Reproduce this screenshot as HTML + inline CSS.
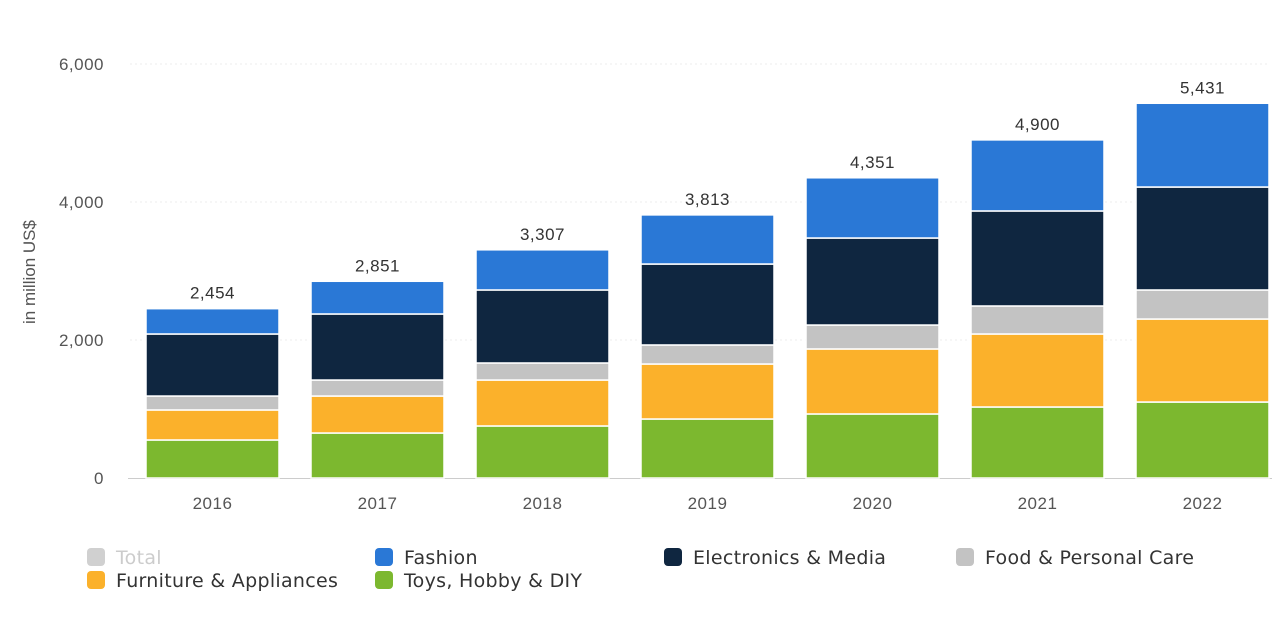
<!DOCTYPE html>
<html><head><meta charset="utf-8"><style>
body{margin:0;background:#fff;width:1288px;height:620px;overflow:hidden;font-family:"Liberation Sans",sans-serif}
</style></head><body>
<svg id="chart" width="1288" height="620" xmlns="http://www.w3.org/2000/svg" font-family="Liberation Sans, sans-serif"></svg>
<script>
const years=["2016","2017","2018","2019","2020","2021","2022"];
const toys=[551,652,754,855,928,1029,1101];
const furniture=[435,536,666,797,942,1058,1203];
const food=[202,232,247,276,347,406,421];
const electronics=[899,957,1058,1173,1261,1377,1492];
const fashion=[367,474,582,712,873,1030,1214];
const totals=[2454,2851,3307,3813,4351,4900,5431];
const yTicks=[0,2000,4000,6000];
const yTickLabels=["0","2,000","4,000","6,000"];
const seriesNames=["Toys, Hobby & DIY","Furniture & Appliances","Food & Personal Care","Electronics & Media","Fashion"];
const seriesData=[toys,furniture,food,electronics,fashion];
const colors=["#7cb82f","#fbb12b","#c3c3c3","#0f2640","#2a78d6"];
const svg=document.getElementById('chart');
const NS="http://www.w3.org/2000/svg";
const y=v=>478-v*(414/6000);
const x=i=>146+i*165;
const bw=133;
function mk(t,a,txt){const e=document.createElementNS(NS,t);for(const k in a)e.setAttribute(k,a[k]);if(txt!==undefined)e.textContent=txt;svg.appendChild(e);return e;}
yTicks.forEach((t,i)=>{
 if(t>0){const g=mk('line',{x1:130,x2:1270,y1:y(t),y2:y(t),stroke:'#eee','stroke-dasharray':'2,3'});
 
 }
 const l=mk('text',{x:104,y:y(t)+6,'text-anchor':'end','font-size':17,fill:'#555','letter-spacing':'0.5'},yTickLabels[i]);
 
 
});
const ax=mk('line',{x1:128,x2:1272,y1:478.5,y2:478.5,stroke:'#ccc'});


const yt=mk('text',{x:0,y:0,transform:'translate(35,272) rotate(-90)','text-anchor':'middle','font-size':17,fill:'#555'},'in million US$');


years.forEach((yr,i)=>{
 let acc=0;
 seriesData.forEach((s,j)=>{
  const v=s[i];
  const r=mk('rect',{x:x(i),y:y(acc+v),width:bw,height:y(acc)-y(acc+v),fill:colors[j],stroke:'#fff','stroke-width':1.5});
  
  
  acc+=v;
 });
 const tl=mk('text',{x:x(i)+bw/2,y:y(totals[i])-10,'text-anchor':'middle','font-size':17,fill:'#333','letter-spacing':'0.5'},totals[i].toLocaleString('en-US'));
 
 
 const xl=mk('text',{x:x(i)+bw/2,y:509,'text-anchor':'middle','font-size':17,fill:'#555','letter-spacing':'0.5'},yr);
 
 
});
const legend=[["Total","#d0d0d0",87,557,"#ccc"],["Fashion",colors[4],375,557,"#333"],["Electronics & Media",colors[3],664,557,"#333"],["Food & Personal Care",colors[2],956,557,"#333"],["Furniture & Appliances",colors[1],87,580,"#333"],["Toys, Hobby & DIY",colors[0],375,580,"#333"]];
legend.forEach(l=>{
 const r=mk('rect',{x:l[2],y:l[3]-9,width:18,height:18,rx:4,fill:l[1]});
 
 
 const t=mk('text',{x:l[2]+29,y:l[3]+7,'font-size':19,'letter-spacing':'0.3',fill:l[4],'font-family':'DejaVu Sans, sans-serif'},l[0]);
 
 
});
</script>
</body></html>
